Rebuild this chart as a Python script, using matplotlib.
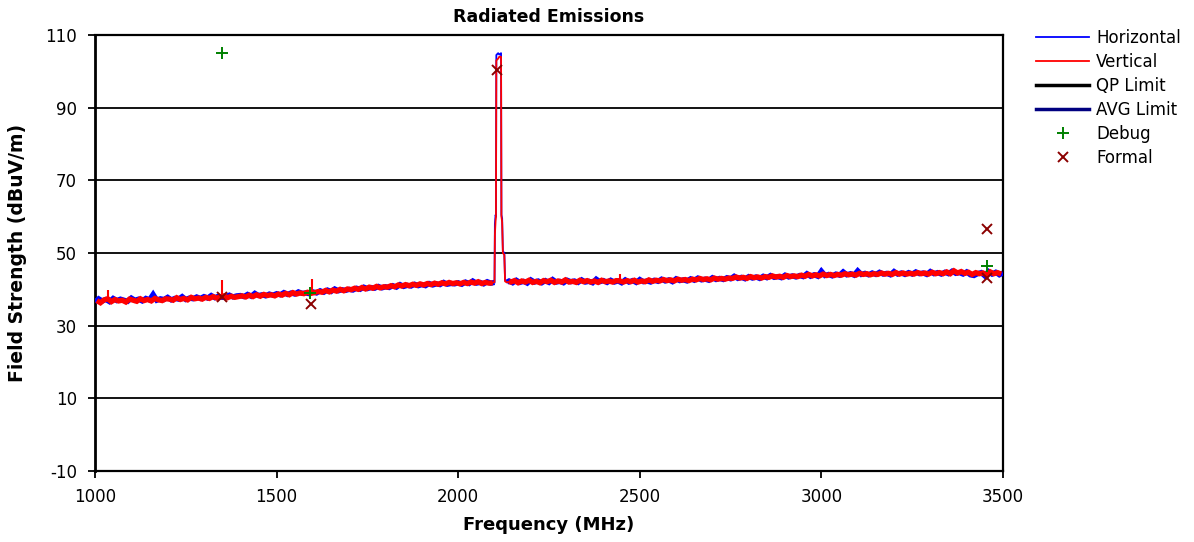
import numpy as np
import matplotlib
matplotlib.use("Agg")
import matplotlib.pyplot as plt
from matplotlib.lines import Line2D

# ---------------- data ----------------
title = "Radiated Emissions"
x_label = "Frequency (MHz)"
y_label = "Field Strength (dBuV/m)"
x_ticks = [1000, 1500, 2000, 2500, 3000, 3500]
y_ticks = [-10, 10, 30, 50, 70, 90, 110]

# Horizontal trace (blue)
h_low_freq = np.arange(1000, 2101, 10)
h_low_level = [
    36.5, 37.4, 36.8, 37.2, 36.6, 37.5, 36.9, 37.3, 37.0, 36.7,
    37.6, 37.0, 37.3, 36.8, 37.5, 37.1, 38.6, 37.0, 37.4, 37.2,
    37.8, 37.1, 37.5, 37.3, 38.0, 37.2, 37.6, 37.4, 37.9, 37.5,
    38.0, 37.6, 38.3, 37.7, 38.1, 37.8, 38.0, 38.4, 37.9, 38.2,
    38.3, 38.0, 38.6, 38.1, 38.9, 38.3, 38.5, 38.2, 38.7, 38.4,
    38.8, 38.5, 39.1, 38.6, 39.0, 38.7, 39.3, 38.9, 39.0, 38.8,
    39.3, 39.0, 39.6, 39.2, 39.8, 39.4, 40.1, 39.6, 39.9, 39.7,
    40.0, 39.8, 40.3, 40.0, 40.6, 40.2, 40.5, 40.3, 40.8, 40.4,
    40.7, 40.5, 41.0, 40.6, 41.3, 40.8, 41.1, 40.9, 41.4, 41.0,
    41.3, 41.0, 41.6, 41.2, 41.5, 41.3, 41.9, 41.4, 41.6, 41.5,
    41.8, 41.4, 42.0, 41.6, 42.3, 41.7, 41.9, 41.5, 42.1, 41.7,
    41.9,
]
h_peak_freq = [2100, 2101, 2103, 2104, 2105, 2110, 2113, 2118, 2119,
               2121, 2123, 2127, 2129, 2134]
h_peak_level = [41.9, 58.0, 60.5, 60.0, 104.5, 105.0, 104.6, 105.0, 60.5,
                59.5, 50.5, 50.0, 42.5, 42.0]
h_high_freq = [2134] + list(np.arange(2140, 3501, 10))
h_high_level = [
    42.0,
    42.3, 41.8, 42.5, 41.9, 42.2, 41.7, 42.6, 42.0, 42.3, 41.8,
    42.4, 41.9, 42.7, 42.0, 42.2, 41.8, 42.5, 42.1, 42.3, 41.9,
    42.6, 42.0, 42.2, 41.8, 42.8, 42.1, 42.4, 41.9, 42.5, 42.0,
    42.3, 41.8, 42.6, 42.0, 42.4, 41.9, 42.7, 42.1, 42.3, 42.0,
    42.5, 42.2, 42.8, 42.3, 42.6, 42.1, 42.9, 42.4, 42.6, 42.3,
    42.9, 42.5, 43.1, 42.6, 42.8, 42.5, 43.2, 42.7, 43.0, 42.7,
    43.2, 42.9, 43.6, 43.0, 43.3, 42.9, 43.5, 43.1, 43.4, 43.0,
    43.6, 43.2, 43.8, 43.3, 43.5, 43.2, 43.9, 43.4, 43.7, 43.4,
    43.8, 43.5, 44.3, 43.6, 44.0, 43.6, 45.0, 43.8, 44.1, 43.7,
    44.2, 43.9, 44.8, 44.0, 44.3, 43.9, 45.1, 44.1, 44.4, 44.0,
    44.5, 44.1, 44.7, 44.2, 44.4, 44.0, 44.9, 44.2, 44.5, 44.1,
    44.6, 44.2, 44.8, 44.3, 44.5, 44.1, 44.9, 44.3, 44.6, 44.2,
    44.7, 44.3, 45.0, 44.4, 44.6, 44.2, 44.8, 44.0, 43.8, 44.3,
    44.6, 43.7, 44.9, 44.2, 44.7, 44.0, 44.5,
]

# Vertical trace (red)
v_low_freq = np.arange(1005, 2096, 10)
v_low_level = [
    36.9, 36.3, 37.1, 37.4, 36.6, 37.2, 36.8, 37.0, 36.5, 37.3,
    37.0, 36.7, 37.4, 36.9, 37.2, 36.8, 37.5, 37.1, 36.9, 37.4,
    37.3, 37.0, 37.7, 37.2, 37.5, 37.1, 37.8, 37.4, 37.6, 37.3,
    37.8, 37.5, 38.0, 37.6, 37.9, 38.2, 37.7, 38.1, 37.8, 38.0,
    38.2, 37.9, 38.4, 38.0, 38.5, 38.1, 38.6, 38.3, 38.5, 38.2,
    38.7, 38.4, 38.9, 38.5, 39.1, 38.7, 39.0, 38.8, 39.2, 38.9,
    39.1, 39.4, 39.2, 39.7, 39.3, 39.8, 39.5, 40.0, 39.6, 40.1,
    39.9, 40.3, 40.0, 40.5, 40.1, 40.6, 40.3, 40.8, 40.4, 40.7,
    40.6, 41.0, 40.7, 41.2, 40.9, 41.3, 41.0, 41.4, 41.1, 41.5,
    41.2, 41.6, 41.3, 41.7, 41.4, 41.8, 41.5, 41.9, 41.6, 41.8,
    41.5, 41.9, 41.6, 42.0, 41.7, 42.1, 41.6, 41.9, 41.7, 41.8,
]
v_peak_freq = [2095, 2100, 2101, 2103, 2104, 2105, 2110, 2113, 2118, 2119,
               2121, 2123, 2127, 2129, 2134, 2140]
v_peak_level = [41.8, 42.0, 55.0, 59.0, 60.0, 103.0, 103.5, 104.0, 104.0,
                60.0, 58.5, 50.0, 49.5, 42.2, 41.9, 42.1]
v_high_freq = [2140] + list(np.arange(2145, 3496, 10))
v_high_level = [
    42.1,
    42.0, 42.4, 41.8, 42.3, 42.0, 42.5, 41.9, 42.2, 41.8, 42.4,
    42.1, 42.5, 41.9, 42.3, 42.0, 42.6, 42.0, 42.2, 41.9, 42.5,
    42.1, 42.4, 42.0, 42.3, 41.9, 42.5, 42.1, 42.3, 42.0, 42.4,
    42.3, 42.0, 42.4, 42.1, 42.5, 42.0, 42.3, 42.1, 42.6, 42.2,
    42.5, 42.3, 42.7, 42.4, 42.6, 42.3, 42.8, 42.5, 42.7, 42.4,
    42.8, 42.6, 43.0, 42.7, 42.9, 42.6, 43.1, 42.8, 43.0, 42.8,
    43.1, 43.0, 43.4, 43.1, 43.3, 43.0, 43.5, 43.2, 43.4, 43.1,
    43.5, 43.3, 43.7, 43.4, 43.6, 43.3, 43.8, 43.5, 43.7, 43.5,
    43.9, 43.6, 44.1, 43.7, 44.0, 43.7, 44.2, 43.8, 44.1, 43.8,
    44.1, 43.9, 44.3, 44.0, 44.2, 43.9, 44.4, 44.1, 44.3, 44.0,
    44.3, 44.1, 44.5, 44.2, 44.4, 44.1, 44.6, 44.2, 44.5, 44.2,
    44.4, 44.2, 44.6, 44.3, 44.5, 44.2, 44.7, 44.3, 44.6, 44.3,
    44.8, 44.3, 45.1, 44.5, 44.9, 44.4, 44.7, 44.1, 44.6, 44.3,
    44.5, 43.9, 44.8, 44.3, 44.6, 44.2,
]
# narrow single-bin spikes of the vertical trace: freq, floor, top
v_spike_freq = [1035, 1350, 1597, 2445]
v_spike_floor = [37.2, 38.0, 39.0, 42.2]
v_spike_top = [39.8, 42.6, 42.8, 44.3]
# narrow spikes of the horizontal trace
h_spike_freq = [1160, 1440, 2998, 3060]
h_spike_floor = [37.2, 38.2, 43.8, 44.0]
h_spike_top = [39.2, 39.6, 45.8, 45.6]

# Limits (outside the visible part of the reference)
qp_limit_freq, qp_limit_level = [], []
avg_limit_freq, avg_limit_level = [], []

# Markers
debug_freq = [1350, 1592, 3455]
debug_level = [105.0, 38.9, 46.4]
formal_freq = [1350, 1594, 2107, 3455, 3455]
formal_level = [38.0, 36.0, 100.4, 56.6, 43.0]

# ---------------- plot ----------------
plt.rcParams['font.family'] = ['DejaVu Sans']
plt.rcParams['axes.unicode_minus'] = False
fig = plt.figure(figsize=(11.94, 5.42), dpi=100)
ax = fig.add_axes([95/1194, 1-471/542, (1003-95)/1194, (471-35)/542])

band = dict(lw=3.8, solid_joinstyle='miter', solid_capstyle='butt')
BLUE, RED = '#0000FF', '#FF0000'

ax.plot(h_low_freq, h_low_level, color=BLUE, zorder=3, **band)
ax.plot(h_high_freq, h_high_level, color=BLUE, zorder=3, **band)
ax.plot(h_peak_freq, h_peak_level, color=BLUE, lw=1.3, zorder=3)
ax.vlines(h_spike_freq, h_spike_floor, h_spike_top, color=BLUE, lw=1.5, zorder=3)

ax.plot(v_low_freq, v_low_level, color=RED, zorder=4, **band)
ax.plot(v_high_freq, v_high_level, color=RED, zorder=4, **band)
ax.plot(v_peak_freq, v_peak_level, color=RED, lw=1.3, zorder=4)
ax.vlines(v_spike_freq, v_spike_floor, v_spike_top, color=RED, lw=1.5, zorder=4)

ax.plot(qp_limit_freq, qp_limit_level, color='black', lw=2.5)
ax.plot(avg_limit_freq, avg_limit_level, color='#000080', lw=2.5)
ax.plot(debug_freq, debug_level, ls='none', marker='+', color='#008000',
        ms=8, mew=1.4, zorder=6)
ax.plot(formal_freq, formal_level, ls='none', marker='x', color='#8B0000',
        ms=7, mew=1.4, zorder=5)

ax.set_xlim(1000, 3500)
ax.set_ylim(-10, 110)
ax.set_xticks(x_ticks)
ax.set_yticks(y_ticks)
ax.yaxis.grid(True, color='black', lw=1.3)
ax.set_axisbelow(True)
for s in ax.spines.values():
    s.set_color('black')
    s.set_linewidth(1.6)
ax.spines['left'].set_linewidth(2.0)
ax.tick_params(axis='both', direction='out', length=5, width=1.3,
               labelsize=12, colors='black')
ax.tick_params(axis='y', pad=8)
ax.tick_params(axis='x', pad=7)

fig.text((95+1003)/2/1194, 1-17/542, title, ha='center', va='center',
         fontsize=12.5, fontweight='bold')
fig.text((95+1003)/2/1194, 1-525/542, x_label, ha='center', va='center',
         fontsize=13, fontweight='bold')
fig.text(18/1194, 1-(35+471)/2/542, y_label, ha='center', va='center',
         rotation=90, fontsize=13.5, fontweight='bold')

handles = [
    Line2D([], [], color=BLUE, lw=1.3),
    Line2D([], [], color=RED, lw=1.3),
    Line2D([], [], color='black', lw=2.5),
    Line2D([], [], color='#000080', lw=2.5),
    Line2D([], [], ls='none', marker='+', color='#008000', ms=8, mew=1.4),
    Line2D([], [], ls='none', marker='x', color='#8B0000', ms=7, mew=1.4),
]
labels = ["Horizontal", "Vertical", "QP Limit", "AVG Limit", "Debug", "Formal"]
fig.legend(handles, labels, loc='upper left',
           bbox_to_anchor=(1036/1194, 1-29/542), frameon=False,
           fontsize=12, handlelength=3.2, handletextpad=0.4,
           labelspacing=0.36, borderaxespad=0, borderpad=0)

fig.savefig('out.png', dpi=100)
